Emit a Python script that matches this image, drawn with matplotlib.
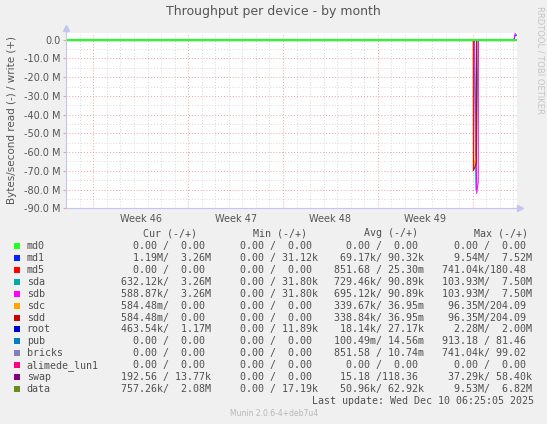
import matplotlib
matplotlib.use("Agg")
import matplotlib.pyplot as plt
import numpy as np

# graph window in days (starts Sat 8 Nov 2025)
x_end = 33.25
week_starts = [2, 9, 16, 23, 30]
week_labels = ["Week 46", "Week 47", "Week 48", "Week 49"]
y_ticks = [0, -10e6, -20e6, -30e6, -40e6, -50e6, -60e6, -70e6, -80e6, -90e6]
y_tick_labels = ["0.0", "-10.0 M", "-20.0 M", "-30.0 M", "-40.0 M", "-50.0 M",
                 "-60.0 M", "-70.0 M", "-80.0 M", "-90.0 M"]

names = ["md0", "md1", "md5", "sda", "sdb", "sdc", "sdd", "root", "pub",
         "bricks", "alimede_lun1", "swap", "data"]
colors = ["#22ff22", "#0022ff", "#ff0000", "#00aaaa", "#ff00ff", "#ffa500",
          "#cc0000", "#0000cc", "#0080c0", "#8080c0", "#ff0080", "#800080",
          "#688e23"]

# legend values, read / write
cur_r = ["0.00", "1.19M", "0.00", "632.12k", "588.87k", "584.48m", "584.48m",
         "463.54k", "0.00", "0.00", "0.00", "192.56", "757.26k"]
cur_w = ["0.00", "3.26M", "0.00", "3.26M", "3.26M", "0.00", "0.00", "1.17M",
         "0.00", "0.00", "0.00", "13.77k", "2.08M"]
min_r = ["0.00"] * 13
min_w = ["0.00", "31.12k", "0.00", "31.80k", "31.80k", "0.00", "0.00",
         "11.89k", "0.00", "0.00", "0.00", "0.00", "17.19k"]
avg_r = ["0.00", "69.17k", "851.68", "729.46k", "695.12k", "339.67k",
         "338.84k", "18.14k", "100.49m", "851.58", "0.00", "15.18", "50.96k"]
avg_w = ["0.00", "90.32k", "25.30m", "90.89k", "90.89k", "36.95m", "36.95m",
         "27.17k", "14.56m", "10.74m", "0.00", "118.36", "62.92k"]
max_r = ["0.00", "9.54M", "741.04k", "103.93M", "103.93M", "96.35M",
         "96.35M", "2.28M", "913.18", "741.04k", "0.00", "37.29k", "9.53M"]
max_w = ["0.00", "7.52M", "180.48", "7.50M", "7.50M", "204.09", "204.09",
         "2.00M", "81.46", "99.02", "0.00", "58.40k", "6.82M"]

# series traces (days, bytes/s); read is drawn negative
flat_t = [0, x_end]
flat_v = [0, 0]
sdd_t = [0, 30.04, 30.05, 30.27, 30.29, x_end]
sdd_v = [0, 0, -70e6, -66e6, 0, 0]
sdc_t = [0, 30.06, 30.10, 30.26, 30.29, x_end]
sdc_v = [0, 0, -68e6, -62e6, 0, 0]
sda_t = [0, 30.10, 30.24, 30.40, x_end]
sda_v = [0, 0, -80e6, 0, 0]
sdb_t = [0, 30.14, 30.30, 30.41, 30.42, x_end]
sdb_v = [0, 0, -82e6, -76e6, 0, 0]
end_t = [0, 33.05, 33.15, x_end]
sdb_end_v = [0, 0, 4e6, 4e6]
md1_end_v = [0, 0, 2.5e6, 2.5e6]

W, H = 547, 424
fig = plt.figure(figsize=(W / 100, H / 100), dpi=100, facecolor="#f0f0f0")
left, right, top, bottom = 66.3, 516.7, 33.0, 208.3
ax = fig.add_axes([left / W, 1 - bottom / H, (right - left) / W, (bottom - top) / H])
ax.set_facecolor("white")
ax.set_xlim(0, x_end)
ax.set_ylim(-90e6, 3.6e6)

# grid
minor_c, major_c = "#d8d8d8", "#f4a0a0"
for d in range(0, 34):
    if d not in week_starts:
        ax.axvline(d, color=minor_c, lw=0.7, ls=(0, (1, 2)), zorder=1)
for v in np.arange(-85e6, 3e6, 10e6):
    ax.axhline(v, color=minor_c, lw=0.7, ls=(0, (1, 2)), zorder=1)
for d in week_starts:
    ax.axvline(d, color=major_c, lw=0.7, ls=(0, (1, 2)), zorder=1)
for v in y_ticks:
    ax.axhline(v, color=major_c, lw=0.7, ls=(0, (1, 2)), zorder=1)

# lines
lw = 0.75
order = ["swap", "data", "root", "pub", "bricks", "alimede_lun1", "md5", "md1"]
for n in order:
    c = colors[names.index(n)]
    ax.plot(flat_t, flat_v, color=c, lw=lw, zorder=2)
ax.plot(end_t, md1_end_v, color=colors[1], lw=lw, zorder=3)
ax.plot(sda_t, sda_v, color=colors[3], lw=lw, zorder=3)
ax.plot(sdc_t, sdc_v, color=colors[5], lw=lw, zorder=3)
ax.plot(sdb_t, sdb_v, color=colors[4], lw=lw, zorder=3)
ax.plot(end_t, sdb_end_v, color=colors[4], lw=lw, zorder=3)
ax.plot(sdd_t, sdd_v, color=colors[6], lw=lw, zorder=4)
ax.plot(flat_t, flat_v, color=colors[0], lw=1.5, zorder=5)

for s in ax.spines.values():
    s.set_visible(False)
ax.set_xticks([])
ax.set_yticks(y_ticks)
ax.set_yticklabels(y_tick_labels)
ax.tick_params(axis="y", length=2, color=major_c, labelsize=7,
               labelcolor="#555555", pad=2)
for i, lab in enumerate(week_labels):
    ax.text((week_starts[i] + week_starts[i + 1]) / 2, -0.035, lab,
            transform=ax.get_xaxis_transform(), ha="center", va="top",
            fontsize=7, color="#555555")

# axes with arrows
axc = "#c4c4f0"
fig.add_artist(plt.Line2D([left / W, left / W], [1 - bottom / H, 1 - 28 / H],
                          color=axc, lw=0.8))
fig.add_artist(plt.Line2D([left / W, 519 / W], [1 - bottom / H, 1 - bottom / H],
                          color=axc, lw=0.8))
fig.add_artist(plt.Line2D([left / W], [1 - 28 / H], marker="^", ms=4,
                          color=axc, lw=0))
fig.add_artist(plt.Line2D([520 / W], [1 - bottom / H], marker=">", ms=4,
                          color=axc, lw=0))

fig.text(273 / W, 1 - 12 / H, "Throughput per device - by month",
         ha="center", va="center", fontsize=9, color="#555555")
fig.text(12 / W, 1 - 120.5 / H, "Bytes/second read (-) / write (+)",
         rotation=90, ha="center", va="center", fontsize=7.5, color="#555555")
fig.text(540 / W, 1 - 6 / H, "RRDTOOL / TOBI OETIKER", rotation=270,
         ha="center", va="top", fontsize=6, color="#c4c4c4")


def cell(r, w):
    def f(s):
        if s[-1].isdigit():
            s = s + " "
        return s.rjust(7)
    return f(r) + "/" + f(w)


mono = "DejaVu Sans Mono"
fs = 7.2
tc = "#505050"
col_x = [120.7, 228.0, 334.3, 441.5]
head_x = [142.7, 253.3, 364.3, 474.0]
headers = ["Cur (-/+)", "Min (-/+)", "Avg (-/+)", "Max (-/+)"]
for hx, h in zip(head_x, headers):
    fig.text(hx / W, 1 - 233.3 / H, h, family=mono, fontsize=fs, color=tc,
             va="center")
for i, n in enumerate(names):
    y = 245.7 + 11.97 * i
    fig.add_artist(plt.Rectangle((14 / W, 1 - (y + 3) / H), 6 / W, 6 / H,
                                 color=colors[i], lw=0))
    fig.text(26.7 / W, 1 - y / H, n, family=mono, fontsize=fs, color=tc,
             va="center")
    vals = [cell(cur_r[i], cur_w[i]), cell(min_r[i], min_w[i]),
            cell(avg_r[i], avg_w[i]), cell(max_r[i], max_w[i])]
    for cx, v in zip(col_x, vals):
        fig.text(cx / W, 1 - y / H, v, family=mono, fontsize=fs, color=tc,
                 va="center")
fig.text(311.7 / W, 1 - 400.7 / H, "Last update: Wed Dec 10 06:25:05 2025",
         family=mono, fontsize=fs, color=tc, va="center")
fig.text(274 / W, 1 - 413.3 / H, "Munin 2.0.6-4+deb7u4", ha="center",
         va="center", fontsize=5.5, color="#b8b8b8")

fig.savefig("out.png", dpi=100, facecolor=fig.get_facecolor())
